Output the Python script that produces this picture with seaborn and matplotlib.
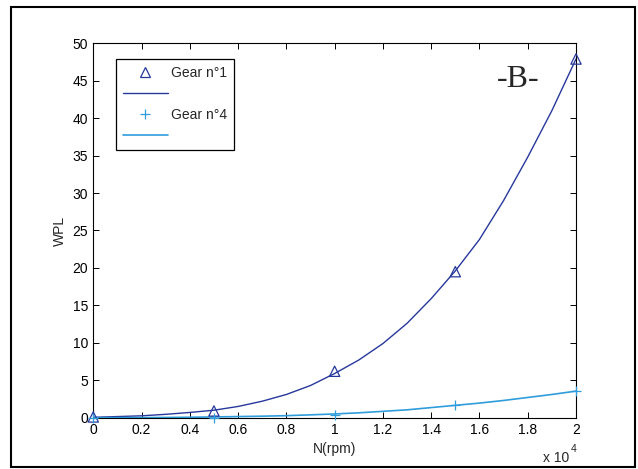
import matplotlib
matplotlib.use("Agg")
import matplotlib.pyplot as plt
from matplotlib.lines import Line2D
from matplotlib.patches import Rectangle
import numpy as np
import pandas as pd
import seaborn as sns

# measured points (rpm, WPL)
rpm_points = [0, 5000, 10000, 15000, 20000]
gear1_points = [0.1, 0.9, 6.2, 19.5, 47.9]
gear4_points = [0.0, 0.0, 0.4, 1.7, 3.6]

# fitted curves, every 1000 rpm
rpm_curve = [0, 1000, 2000, 3000, 4000, 5000, 6000, 7000, 8000, 9000, 10000,
             11000, 12000, 13000, 14000, 15000, 16000, 17000, 18000, 19000, 20000]
gear1_curve = [0.05, 0.15, 0.25, 0.45, 0.7, 1.0, 1.5, 2.2, 3.1, 4.3, 5.9,
               7.7, 9.9, 12.6, 15.9, 19.6, 23.8, 29.0, 34.8, 41.0, 47.9]
gear4_curve = [0.0, 0.0, 0.01, 0.03, 0.06, 0.1, 0.15, 0.2, 0.27, 0.38, 0.5,
               0.65, 0.85, 1.05, 1.35, 1.65, 1.95, 2.3, 2.7, 3.1, 3.55]

x_ticks = [0, 0.2, 0.4, 0.6, 0.8, 1, 1.2, 1.4, 1.6, 1.8, 2]
x_tick_labels = ["0", "0.2", "0.4", "0.6", "0.8", "1", "1.2", "1.4", "1.6", "1.8", "2"]
y_ticks = [0, 5, 10, 15, 20, 25, 30, 35, 40, 45, 50]

C1 = "#27389c"
C4 = "#2f9ddb"
FS = 10

sns.set_style("ticks")
plt.rcParams["font.family"] = ["Liberation Sans", "DejaVu Sans"]

fig = plt.figure(figsize=(6.38, 4.69), dpi=100)
ax = fig.add_axes([0.1462, 0.1094, 0.7566, 0.7983])

pts = pd.DataFrame({"x": np.array(rpm_points) / 1e4, "g1": gear1_points, "g4": gear4_points})
crv = pd.DataFrame({"x": np.array(rpm_curve) / 1e4, "g1": gear1_curve, "g4": gear4_curve})

sns.lineplot(data=crv, x="x", y="g1", color=C1, linewidth=1.0, ax=ax)
sns.lineplot(data=crv, x="x", y="g4", color=C4, linewidth=1.2, ax=ax)
sns.scatterplot(data=pts, x="x", y="g1", marker="^", s=55, facecolors="none",
                edgecolor=C1, linewidth=0.9, ax=ax, zorder=3, clip_on=False)
sns.scatterplot(data=pts, x="x", y="g4", marker="+", s=45, color=C4,
                linewidth=0.9, ax=ax, zorder=3, clip_on=False)

ax.set_xlim(0, 2)
ax.set_ylim(0, 50)
ax.set_xticks(x_ticks)
ax.set_xticklabels(x_tick_labels)
ax.set_yticks(y_ticks)
ax.tick_params(direction="in", top=True, right=True, length=4.5, width=0.7,
               labelsize=FS, colors="black", pad=3.6)
for sp in ax.spines.values():
    sp.set_visible(True)
    sp.set_linewidth(0.8)
    sp.set_color("black")

ax.set_xlabel("N(rpm)", fontsize=FS, labelpad=4)
ax.set_ylabel("WPL", fontsize=FS, labelpad=4)

ax.text(1.76, 45.2, "-B-", family=["Liberation Serif", "DejaVu Serif"],
        fontsize=23, ha="center", va="center")

fig.text(0.851, 0.015, "x 10", fontsize=FS, ha="left", va="baseline")
fig.text(0.894, 0.037, "4", fontsize=7.5, ha="left", va="baseline")

handles = [
    Line2D([], [], linestyle="none", marker="^", markersize=7.5, markerfacecolor="none",
           markeredgecolor=C1, markeredgewidth=0.9),
    Line2D([], [], color=C1, linewidth=1.0),
    Line2D([], [], linestyle="none", marker="+", markersize=7, color=C4,
           markeredgewidth=0.9),
    Line2D([], [], color=C4, linewidth=1.2),
]
labels = ["Gear n°1", "", "Gear n°4", ""]
leg = ax.legend(handles, labels, loc="upper left", bbox_to_anchor=(0.0464, 0.957),
                borderaxespad=0, fancybox=False, frameon=True, edgecolor="black",
                fontsize=FS, handlelength=3.25, handletextpad=0.22,
                labelspacing=0.5, borderpad=0.5, framealpha=1)
leg.get_frame().set_linewidth(0.9)

fig.patches.append(Rectangle((0.0172, 0.004), 0.978, 0.981, transform=fig.transFigure,
                             fill=False, edgecolor="black", linewidth=1.5))

fig.savefig("out.png", dpi=100)
